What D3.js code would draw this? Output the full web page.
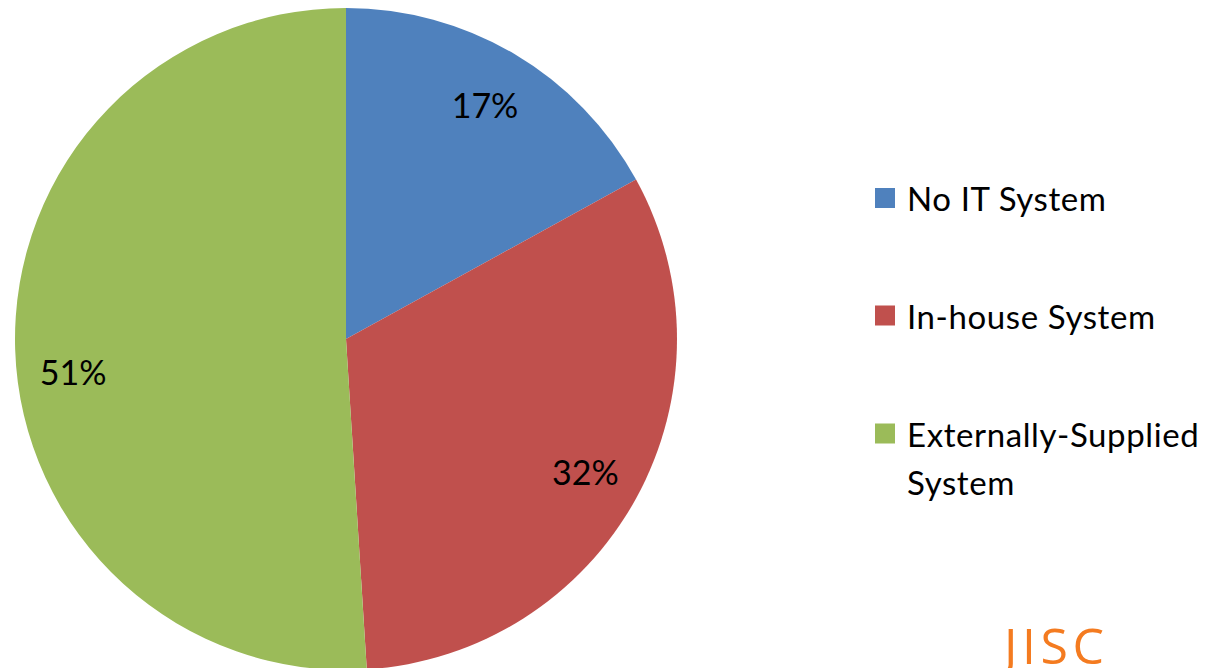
<!DOCTYPE html>
<html><head><meta charset="utf-8">
<script src="https://cdn.jsdelivr.net/npm/d3@7"></script>
<style>html,body{margin:0;padding:0;background:#fff;overflow:hidden}</style>
</head><body>
<svg id="c" width="1220" height="668"></svg>
<script>
const categories = ["No IT System", "In-house System", "Externally-Supplied System"];
const values = [17, 32, 51];
const colors = ["#4F81BD", "#C0504D", "#9BBB59"];
const legendLines = [["No IT System"], ["In-house System"], ["Externally-Supplied", "System"]];

const svg = d3.select("#c");
const cx = 346, cy = 339, R = 331;
const font = "Lato, 'Open Sans', sans-serif";
const pie = d3.pie().sort(null).value(d => d)(values);
const arc = d3.arc().innerRadius(0).outerRadius(R);
const labelArc = d3.arc().innerRadius(R * 0.825).outerRadius(R * 0.825);
// vertical nudge applied by the layout so the large slice's label sits like the original
const labelDy = (d) => (d.endAngle - d.startAngle > Math.PI ? 24 : 1);
const g = svg.append("g").attr("transform", `translate(${cx},${cy})`);
g.selectAll("path").data(pie).join("path")
  .attr("d", arc).attr("fill", (d, i) => colors[i]);
g.selectAll("text").data(pie).join("text")
  .attr("transform", d => { const c = labelArc.centroid(d); return `translate(${c[0]},${c[1] + labelDy(d)})`; })
  .attr("text-anchor", "middle").attr("dominant-baseline", "central")
  .attr("font-family", font).attr("font-size", 34).attr("fill", "#000")
  .text(d => d.data + "%");

const leg = svg.append("g");
const rowY = [198, 315.5, 433.5];
legendLines.forEach((lines, i) => {
  leg.append("rect").attr("x", 875).attr("y", rowY[i] - 10).attr("width", 20).attr("height", 20).attr("fill", colors[i]);
  lines.forEach((t, j) => {
    leg.append("text").attr("x", 907).attr("y", rowY[i] + j * 48)
      .attr("dominant-baseline", "central").attr("letter-spacing", 0.6)
      .attr("font-family", font).attr("font-size", 33).attr("fill", "#000").text(t);
  });
});

svg.append("text").attr("x", 1004).attr("y", 664)
  .attr("font-family", "'Open Sans', sans-serif").attr("font-weight", 400)
  .attr("font-size", 50).attr("fill", "#F47B20").attr("textLength", 100).text("JISC");
</script>
</body></html>
